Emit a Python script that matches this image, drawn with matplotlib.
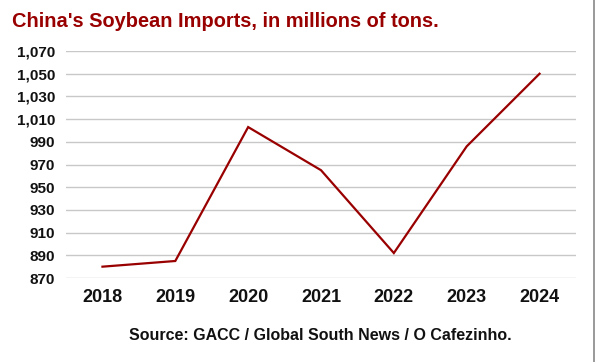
import numpy as np
import pandas as pd
import matplotlib
matplotlib.use('Agg')
import matplotlib.pyplot as plt
from matplotlib.lines import Line2D
from matplotlib.ticker import FuncFormatter

plt.rcParams['font.family'] = ['Liberation Sans', 'DejaVu Sans']

# soybean imports
years = ['2018', '2019', '2020', '2021', '2022', '2023', '2024']
imports = [880, 885, 1003, 965, 892, 986, 1050]
yticks = list(range(870, 1071, 20))

dark_red = '#990000'

fig = plt.figure(figsize=(5.95, 3.62), dpi=100)
ax = fig.add_axes([0.111, 0.232, 0.857, 0.627])

x = np.arange(len(years))
ax.plot(x, imports, color=dark_red, lw=1.6, solid_joinstyle='miter')

ax.set_xlim(-0.5, len(years) - 0.5)
ax.set_ylim(870, 1070)
ax.set_yticks(yticks)
ax.yaxis.set_major_formatter(FuncFormatter(lambda v, p: f'{int(v):,}'))
ax.set_xticks(x)
ax.set_xticklabels(years)

ax.grid(axis='y', color='#c8c8c8', lw=1)
ax.set_axisbelow(True)
for s in ax.spines.values():
    s.set_visible(False)
ax.tick_params(length=0)
ax.tick_params(axis='y', pad=8, labelsize=11)
ax.tick_params(axis='x', pad=8, labelsize=13)
for lab in ax.get_xticklabels() + ax.get_yticklabels():
    lab.set_fontweight('bold')
    lab.set_color('#111111')

fig.text(0.02, 0.94, "China's Soybean Imports, in millions of tons.",
         color=dark_red, fontsize=14.4, fontweight='bold', va='center')
fig.text(0.538, 0.072, 'Source: GACC / Global South News / O Cafezinho.',
         fontsize=11.5, fontweight='bold', ha='center', va='center', color='#111111')

# thin frame line at the right edge
fig.add_artist(Line2D([0.9975, 0.9975], [0, 1], color='#888888', lw=1.2,
                      transform=fig.transFigure))

fig.savefig('out.png', dpi=100)
